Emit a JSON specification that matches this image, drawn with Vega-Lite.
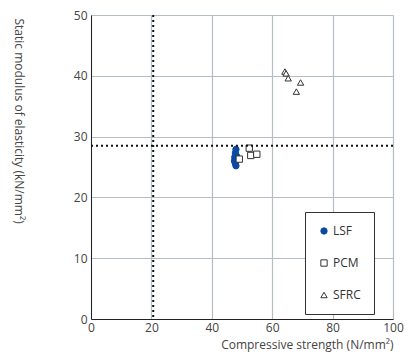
{
  "$schema": "https://vega.github.io/schema/vega-lite/v6.json",
  "width": 302,
  "height": 304,
  "autosize": "none",
  "padding": {"left": 91, "top": 15, "right": 22, "bottom": 39},
  "background": "white",
  "config": {
    "font": "Open Sans",
    "view": {"stroke": null},
    "axis": {
      "labelFont": "Open Sans",
      "titleFont": "Open Sans",
      "labelFontSize": 12,
      "titleFontSize": 12,
      "titleFontWeight": "normal",
      "labelColor": "#444",
      "titleColor": "#444",
      "grid": true,
      "gridColor": "#b4bcc4",
      "gridWidth": 1.2,
      "gridOpacity": 1,
      "domainColor": "#222",
      "ticks": false
    }
  },
  "datasets": {
    "pts": [
      {"strength": 48.0, "modulus": 27.9, "material": "LSF"},
      {"strength": 47.8, "modulus": 27.3, "material": "LSF"},
      {"strength": 47.6, "modulus": 26.6, "material": "LSF"},
      {"strength": 47.5, "modulus": 26.0, "material": "LSF"},
      {"strength": 47.8, "modulus": 25.6, "material": "LSF"},
      {"strength": 48.0, "modulus": 25.2, "material": "LSF"},
      {"strength": 48.2, "modulus": 26.8, "material": "LSF"},
      {"strength": 49.1, "modulus": 26.3, "material": "PCM"},
      {"strength": 52.4, "modulus": 28.1, "material": "PCM"},
      {"strength": 52.9, "modulus": 26.9, "material": "PCM"},
      {"strength": 54.9, "modulus": 27.1, "material": "PCM"},
      {"strength": 64.2, "modulus": 40.7, "material": "SFRC"},
      {"strength": 64.6, "modulus": 40.4, "material": "SFRC"},
      {"strength": 65.3, "modulus": 39.6, "material": "SFRC"},
      {"strength": 69.4, "modulus": 38.9, "material": "SFRC"},
      {"strength": 68.0, "modulus": 37.4, "material": "SFRC"}
    ],
    "vref": [{"strength": 20.6}],
    "href": [{"modulus": 28.5}]
  },
  "layer": [
    {
      "data": {"name": "pts"},
      "mark": {"type": "point", "filled": false, "size": 40, "strokeWidth": 1, "opacity": 1},
      "encoding": {
        "x": {
          "field": "strength", "type": "quantitative",
          "scale": {"domain": [0, 100]},
          "axis": {
            "values": [0, 20, 40, 60, 80, 100],
            "grid": true,
            "title": "Compressive strength (N/mm²)",
            "titleAnchor": "end",
            "titlePadding": 6,
            "labelPadding": 3,
            "labelFlush": false
          }
        },
        "y": {
          "field": "modulus", "type": "quantitative",
          "scale": {"domain": [0, 50]},
          "axis": {
            "values": [0, 10, 20, 30, 40, 50],
            "grid": true,
            "title": "Static modulus of elasticity (kN/mm²)",
            "titleAngle": 90,
            "titleX": -77,
            "titleY": 3,
            "titleAlign": "left",
            "titleBaseline": "alphabetic",
            "labelPadding": 4
          }
        },
        "shape": {
          "field": "material", "type": "nominal",
          "scale": {"domain": ["LSF", "PCM", "SFRC"], "range": ["circle", "square", "triangle-up"]},
          "legend": {
            "title": null,
            "orient": "none",
            "legendX": 214,
            "legendY": 197,
            "padding": 13,
            "rowPadding": 20,
            "labelOffset": 3,
            "symbolOffset": 0,
            "strokeColor": "#333",
            "fillColor": "white",
            "labelFont": "Open Sans",
            "labelFontSize": 12,
            "labelColor": "#333",
            "symbolSize": 40,
            "symbolStrokeWidth": 1
          }
        },
        "fill": {
          "field": "material", "type": "nominal",
          "scale": {"domain": ["LSF", "PCM", "SFRC"], "range": ["#0a4aa3", "#ffffff", "#ffffff"]},
          "legend": null
        },
        "stroke": {
          "field": "material", "type": "nominal",
          "scale": {"domain": ["LSF", "PCM", "SFRC"], "range": ["#0a4aa3", "#333333", "#333333"]},
          "legend": null
        }
      }
    },
    {
      "data": {"name": "vref"},
      "mark": {"type": "rule", "color": "#111", "strokeWidth": 2, "strokeDash": [2, 3]},
      "encoding": {
        "x": {"field": "strength", "type": "quantitative"}
      }
    },
    {
      "data": {"name": "href"},
      "mark": {"type": "rule", "color": "#111", "strokeWidth": 2, "strokeDash": [2, 3]},
      "encoding": {
        "y": {"field": "modulus", "type": "quantitative"}
      }
    }
  ]
}
